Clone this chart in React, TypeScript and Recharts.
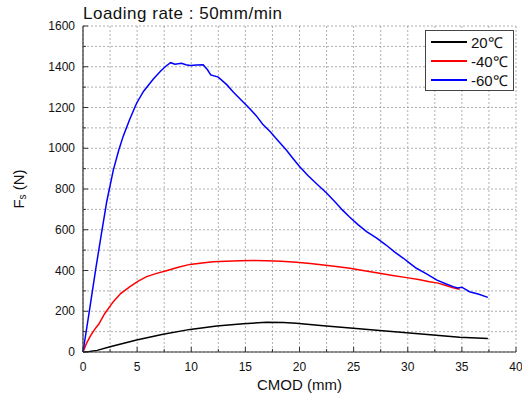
import { LineChart, Line, XAxis, YAxis, CartesianGrid, Legend } from "recharts";

const cmod20 = [0, 0.6, 1.3, 2.5, 4.95, 7.4, 9.9, 12.35, 14.8, 16.96, 18.5, 19.7, 22.2, 24.96, 27.4, 29.9, 32.35, 34.8, 37.4];
const fs20 = [0, 2, 8, 26, 59, 87, 111, 128, 139, 146, 145, 141, 129, 116, 105, 95, 83, 72, 66];

const cmod40 = [0, 0.3, 0.65, 1.0, 1.26, 1.45, 2.0, 2.8, 3.5, 4.34, 5.1, 5.88, 6.8, 7.7, 8.8, 9.88, 11, 12.03, 13.2, 14.5, 15.7, 16.96, 18.3, 19.7, 21, 22.2, 23.4, 24.65, 26, 27.4, 28.6, 29.9, 31, 32.0, 32.8, 33.6, 34.2, 34.8];
const fs40 = [0, 40, 75, 105, 124, 136, 188, 247, 288, 321, 348, 370, 386, 399, 416, 430, 437, 443, 446, 448, 449, 448, 445, 440, 434, 427, 420, 411, 399, 386, 376, 365, 356, 345, 338, 325, 315, 308];

const cmod60 = [0, 0.6, 1.2, 1.7, 2.2, 2.8, 3.3, 3.7, 4.3, 4.95, 5.6, 6.5, 7.2, 7.7, 8.1, 8.5, 9.1, 9.5, 9.9, 10.5, 11.1, 11.5, 11.8, 12.5, 13.3, 13.9, 14.7, 15.3, 16.0, 16.6, 17.3, 18.0, 18.8, 19.4, 20.0, 20.8, 21.7, 22.5, 23.4, 24.0, 24.6, 25.4, 26.2, 27.1, 28.0, 28.8, 29.6, 30.2, 30.8, 31.7, 32.7, 33.5, 34.2, 34.6, 35.0, 35.7, 36.5, 37.4];
const fs60 = [0, 205, 415, 580, 740, 893, 990, 1057, 1140, 1221, 1280, 1340, 1380, 1405, 1420, 1412, 1417, 1410, 1406, 1409, 1410, 1385, 1360, 1349, 1311, 1275, 1232, 1200, 1160, 1118, 1081, 1038, 990, 950, 910, 865, 820, 780, 730, 695, 664, 625, 591, 560, 525, 490, 460, 435, 411, 385, 353, 335, 321, 314, 318, 296, 285, 268];

const xTicks = [0, 2.5, 5, 7.5, 10, 12.5, 15, 17.5, 20, 22.5, 25, 27.5, 30, 32.5, 35, 37.5, 40];
const yTicks = [0, 100, 200, 300, 400, 500, 600, 700, 800, 900, 1000, 1100, 1200, 1300, 1400, 1500, 1600];

const series = [
  { name: "20℃", color: "#000000", data: cmod20.map((x, i) => ({ x, y: fs20[i] })) },
  { name: "-40℃", color: "#ff0000", data: cmod40.map((x, i) => ({ x, y: fs40[i] })) },
  { name: "-60℃", color: "#0000ff", data: cmod60.map((x, i) => ({ x, y: fs60[i] })) },
];

const FONT = "'Liberation Sans', Arial, sans-serif";
const AXIS = "#333";

const BottomTick = (props: any) => {
  const { x, y, payload } = props;
  const major = payload.value % 5 === 0;
  return (
    <g>
      <line x1={x} x2={x} y1={y} y2={y - (major ? 5 : 3)} stroke={AXIS} />
      {major && (
        <text x={x} y={y + 19} textAnchor="middle" fontSize={12} fontFamily={FONT} fill="#111">
          {payload.value}
        </text>
      )}
    </g>
  );
};

const TopTick = (props: any) => {
  const { x, y, payload } = props;
  const major = payload.value % 5 === 0;
  return <line x1={x} x2={x} y1={y} y2={y + (major ? 5 : 3)} stroke={AXIS} />;
};

const LeftTick = (props: any) => {
  const { x, y, payload } = props;
  const major = payload.value % 200 === 0;
  return (
    <g>
      <line x1={x} x2={x + (major ? 5 : 3)} y1={y} y2={y} stroke={AXIS} />
      {major && (
        <text x={x - 8} y={y + 4} textAnchor="end" fontSize={12} fontFamily={FONT} fill="#111">
          {payload.value}
        </text>
      )}
    </g>
  );
};

const RightTick = (props: any) => {
  const { x, y, payload } = props;
  const major = payload.value % 200 === 0;
  return <line x1={x} x2={x - (major ? 5 : 3)} y1={y} y2={y} stroke={AXIS} />;
};

const YLabel = (props: any) => {
  const vb = props.viewBox;
  const cy = vb.y + vb.height / 2;
  return (
    <text x={18} y={cy} transform={`rotate(-90 18 ${cy})`} textAnchor="middle" dominantBaseline="central" fontSize={15} fontFamily={FONT} fill="#111">
      F<tspan fontSize={10} dy={4}>s</tspan>
      <tspan dy={-4}> (N)</tspan>
    </text>
  );
};

const LegendBox = () => (
  <div style={{ border: "1px solid #444", background: "#fff", padding: "1px 4px 1px 5px", fontFamily: FONT, fontSize: 15, color: "#111" }}>
    {series.map((s) => (
      <div key={s.name} style={{ display: "flex", alignItems: "center", height: 19 }}>
        <div style={{ width: 36, height: 2, background: s.color, marginRight: 4 }} />
        <span>{s.name}</span>
      </div>
    ))}
  </div>
);

export default function App() {
  return (
    <div style={{ position: "absolute", left: 0, top: 0, width: 522, height: 403, background: "#fff" }}>
      <div style={{ position: "absolute", left: 83, top: 4, fontFamily: FONT, fontSize: 17, letterSpacing: 0.5, color: "#111", whiteSpace: "nowrap" }}>
        Loading rate : 50mm/min
      </div>
      <LineChart width={522} height={403} margin={{ top: 26, right: 6, bottom: 0, left: 0 }}>
        <CartesianGrid stroke="#9a9a9a" strokeWidth={0.8} strokeDasharray="2 2" />
        <XAxis
          type="number"
          dataKey="x"
          domain={[0, 40]}
          ticks={xTicks}
          interval={0}
          height={51}
          tickSize={0}
          tickMargin={0}
          tickLine={false}
          axisLine={{ stroke: AXIS, strokeWidth: 1.2 }}
          tick={<BottomTick />}
          label={{ value: "CMOD (mm)", position: "insideBottom", offset: 13, fontSize: 15, fontFamily: FONT, fill: "#111" }}
        />
        <XAxis
          xAxisId="t"
          orientation="top"
          type="number"
          dataKey="x"
          domain={[0, 40]}
          ticks={xTicks}
          interval={0}
          height={0}
          tickSize={0}
          tickMargin={0}
          tickLine={false}
          axisLine={{ stroke: AXIS, strokeWidth: 1.2 }}
          tick={<TopTick />}
        />
        <YAxis
          type="number"
          domain={[0, 1600]}
          ticks={yTicks}
          interval={0}
          width={83}
          tickSize={0}
          tickMargin={0}
          tickLine={false}
          axisLine={{ stroke: AXIS, strokeWidth: 1.2 }}
          tick={<LeftTick />}
          label={{ content: <YLabel /> }}
        />
        <YAxis
          yAxisId="r"
          orientation="right"
          type="number"
          domain={[0, 1600]}
          ticks={yTicks}
          interval={0}
          width={0}
          tickSize={0}
          tickMargin={0}
          tickLine={false}
          axisLine={{ stroke: AXIS, strokeWidth: 1.2 }}
          tick={<RightTick />}
        />
        <Legend
          layout="vertical"
          align="center"
          verticalAlign="middle"
          content={<LegendBox />}
          wrapperStyle={{ left: 425, top: 30, width: 89 }}
        />
        {series.map((s) => (
          <Line
            key={s.name}
            data={s.data}
            dataKey="y"
            name={s.name}
            type="linear"
            stroke={s.color}
            strokeWidth={1.5}
            dot={false}
            isAnimationActive={false}
          />
        ))}
      </LineChart>
    </div>
  );
}
